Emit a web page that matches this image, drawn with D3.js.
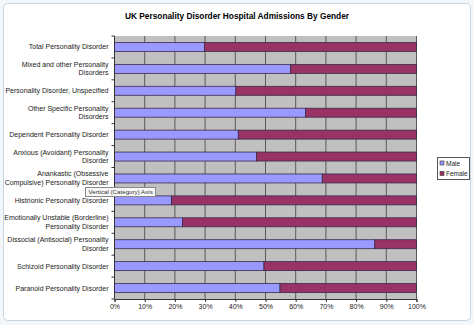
<!DOCTYPE html>
<html>
<head>
<meta charset="utf-8">
<script src="https://cdn.jsdelivr.net/npm/d3@7"></script>
<style>
  body { margin: 0; background: #f4f7fa; }
  svg { display: block; font-family: "Liberation Sans", Arial, sans-serif; }
</style>
</head>
<body>
<div id="chart"></div>
<script>
// Categories (top to bottom), "|" marks a line break in the label
var categories = [
	"Total Personality Disorder",
	"Mixed and other Personality|Disorders",
	"Personality Disorder, Unspecified",
	"Other Specific Personality|Disorders",
	"Dependent Personality Disorder",
	"Anxious (Avoidant) Personality|Disorder",
	"Anankastic (Obsessive|Compulsive) Personality Disorder",
	"Histrionic Personality Disorder",
	"Emotionally Unstable (Borderline)|Personality Disorder",
	"Dissocial (Antisocial) Personality|Disorder",
	"Schizoid Personality Disorder",
	"Paranoid Personality Disorder"
];
// share of admissions, percent
var male   = [29.8, 58.3, 40.2, 63.3, 41.0, 47.0, 68.8, 18.9, 22.5, 86.2, 49.5, 54.8];
var female = male.map(function(m){ return 100 - m; });
var series = ["Male", "Female"];
var xTicks = [0, 10, 20, 30, 40, 50, 60, 70, 80, 90, 100];

var W = 474, H = 325;
var margin = {left: 114.5, right: 57.5, top: 36, bottom: 26};
var colors = {Male: "#9999ff", Female: "#993366"};

var svg = d3.select("#chart").append("svg")
	.attr("width", W)
	.attr("height", H);

// chart frame
svg.append("rect")
	.attr("x", 3.5).attr("y", 3.5)
	.attr("width", W - 7).attr("height", H - 8)
	.attr("rx", 4)
	.attr("fill", "#ffffff")
	.attr("stroke", "#c9d6e2");

svg.append("text")
	.attr("x", 237).attr("y", 18.5)
	.attr("text-anchor", "middle")
	.attr("font-size", "9.5px")
	.attr("font-weight", "bold")
	.attr("textLength", 224)
	.attr("lengthAdjust", "spacingAndGlyphs")
	.text("UK Personality Disorder Hospital Admissions By Gender");

var x = d3.scaleLinear()
	.domain([0, 100])
	.range([margin.left, W - margin.right]);
var y = d3.scaleBand()
	.domain(d3.range(categories.length))
	.range([margin.top, H - margin.bottom])
	.paddingInner(0.59)
	.paddingOuter(0.295);
var yEdge = d3.scaleLinear()
	.domain([0, categories.length])
	.range([margin.top, H - margin.bottom]);

// plot area
svg.append("rect")
	.attr("x", x(0)).attr("y", margin.top)
	.attr("width", x(100) - x(0))
	.attr("height", H - margin.bottom - margin.top)
	.attr("fill", "#c0c0c0");

// vertical gridlines
svg.append("g")
	.selectAll("line")
	.data(xTicks.slice(1))
	.enter()
	.append("line")
	.attr("x1", function(d){ return x(d); })
	.attr("x2", function(d){ return x(d); })
	.attr("y1", margin.top)
	.attr("y2", H - margin.bottom)
	.attr("stroke", "#5a5a5a")
	.attr("stroke-width", 1);

// stacked bars
var stackData = categories.map(function(c, i){ return {i: i, Male: male[i], Female: female[i]}; });
var stacked = d3.stack().keys(series)(stackData);

svg.append("g")
	.selectAll("g")
	.data(stacked)
	.enter()
	.append("g")
	.attr("fill", function(d){ return colors[d.key]; })
	.selectAll("rect")
	.data(function(d){ return d; })
	.enter()
	.append("rect")
	.attr("x", function(d){ return x(d[0]); })
	.attr("y", function(d){ return y(d.data.i); })
	.attr("width", function(d){ return x(d[1]) - x(d[0]); })
	.attr("height", y.bandwidth())
	.attr("stroke", "#3a2a4a")
	.attr("stroke-width", 0.8);

// x axis
var gX = svg.append("g")
	.attr("transform", "translate(0," + (H - margin.bottom) + ")")
	.call(d3.axisBottom(x).tickValues(xTicks).tickSize(3).tickFormat(function(d){ return d + "%"; }));
gX.select(".domain").attr("stroke", "#333");
gX.selectAll(".tick line").attr("stroke", "#333");
gX.selectAll(".tick text").attr("font-size", "7px").attr("fill", "#222")
	.attr("font-family", "'Liberation Sans', Arial, sans-serif").attr("dy", "0.55em");

// y axis line and ticks at category boundaries
svg.append("line")
	.attr("x1", x(0)).attr("x2", x(0))
	.attr("y1", margin.top).attr("y2", H - margin.bottom)
	.attr("stroke", "#333");
svg.append("g")
	.selectAll("line")
	.data(d3.range(categories.length + 1))
	.enter()
	.append("line")
	.attr("x1", x(0) - 3).attr("x2", x(0))
	.attr("y1", function(d){ return yEdge(d); })
	.attr("y2", function(d){ return yEdge(d); })
	.attr("stroke", "#333");

// category labels
var labels = svg.append("g")
	.selectAll("text")
	.data(categories)
	.enter()
	.append("text")
	.attr("text-anchor", "end")
	.attr("font-size", "7px")
	.attr("fill", "#222")
	.attr("transform", function(d, i){ return "translate(108.5," + (y(i) + y.bandwidth() / 2) + ")"; });
labels.selectAll("tspan")
	.data(function(d){
		var lines = d.split("|");
		return lines.map(function(l, k){ return {t: l, k: k, n: lines.length}; });
	})
	.enter()
	.append("tspan")
	.attr("x", 0)
	.attr("y", function(d){ return d.n === 1 ? 2.5 : (d.k === 0 ? -2 : 6.5); })
	.text(function(d){ return d.t; });

// legend
var legend = svg.append("g").attr("transform", "translate(437,157)");
legend.append("rect")
	.attr("x", 0.5).attr("y", 0.5)
	.attr("width", 32).attr("height", 22)
	.attr("fill", "#fff")
	.attr("stroke", "#555");
var item = legend.selectAll(".item")
	.data(series)
	.enter()
	.append("g")
	.attr("class", "item")
	.attr("transform", function(d, i){ return "translate(3," + (6.5 + i * 10.5) + ")"; });
item.append("rect")
	.attr("x", 0).attr("y", -2.5)
	.attr("width", 4).attr("height", 4)
	.attr("fill", function(d){ return colors[d]; })
	.attr("stroke", "#333")
	.attr("stroke-width", 0.6);
item.append("text")
	.attr("x", 6).attr("y", 2.2)
	.attr("font-size", "6.5px")
	.attr("fill", "#222")
	.text(function(d){ return d; });

// tooltip left in the screenshot
var tip = svg.append("g").attr("transform", "translate(85.5,187.5)");
tip.append("rect")
	.attr("width", 70).attr("height", 9)
	.attr("fill", "#f8f8f8")
	.attr("stroke", "#888");
tip.append("text")
	.attr("x", 3).attr("y", 6.8)
	.attr("font-size", "6.2px")
	.attr("fill", "#333")
	.text("Vertical (Category) Axis");
</script>
</body>
</html>
